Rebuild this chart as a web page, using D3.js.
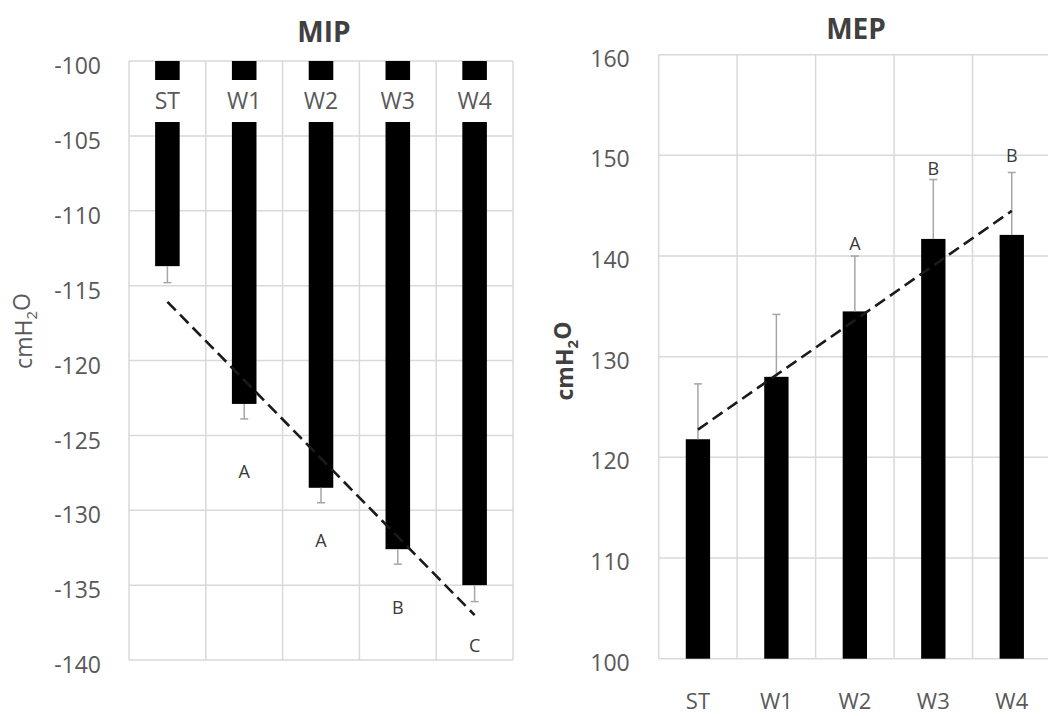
<!DOCTYPE html>
<html>
<head>
<meta charset="utf-8">
<script src="https://cdn.jsdelivr.net/npm/d3@7"></script>
<style>
  html, body { margin: 0; padding: 0; background: #fff; }
  svg { display: block; }
  text { font-family: "Open Sans", sans-serif; }
</style>
</head>
<body>
<svg id="chart" width="1048" height="716"></svg>
<script>
// ---- data ----
const categories = ["ST", "W1", "W2", "W3", "W4"];

const mipValues = [-113.7, -122.9, -128.5, -132.6, -135.0];
const mipErrors = [1.1, 1.0, 1.0, 1.0, 1.1];
const mipLetters = ["", "A", "A", "B", "C"];
const mipLetterAt = [null, -127.4, -132.0, -136.5, -139.05];
const mipTicks = [-100, -105, -110, -115, -120, -125, -130, -135, -140];

const mepValues = [121.8, 128.0, 134.5, 141.7, 142.1];
const mepErrors = [5.5, 6.2, 5.5, 5.9, 6.2];
const mepLetters = ["", "", "A", "B", "B"];
const mepLetterAt = [null, null, 141.2, 148.7, 150.0];
const mepTicks = [100, 110, 120, 130, 140, 150, 160];

// ---- helpers ----
function linreg(vals) {
  const xs = vals.map((_, i) => i);
  const mx = d3.mean(xs), my = d3.mean(vals);
  let sxy = 0, sxx = 0;
  vals.forEach((v, i) => { sxy += (i - mx) * (v - my); sxx += (i - mx) * (i - mx); });
  const slope = sxy / sxx;
  const icpt = my - slope * mx;
  return xs.map(i => icpt + slope * i);
}

const svg = d3.select("#chart");
const GRID = "#d9d9d9";
const TICKC = "#595959";
const ERRC = "#a6a6a6";

function panel(opt) {
  const g = svg.append("g");
  const x = d3.scaleBand().domain(categories).range([opt.x0, opt.x1]).paddingInner(0).paddingOuter(0);
  const y = d3.scaleLinear().domain(opt.domain).range([opt.y0, opt.y1]);
  const bw = x.bandwidth() * opt.barFrac;
  const cx = c => x(c) + x.bandwidth() / 2;
  const yTop = Math.min(y(opt.domain[0]), y(opt.domain[1]));
  const yBot = Math.max(y(opt.domain[0]), y(opt.domain[1]));

  // horizontal gridlines
  g.append("g").selectAll("line").data(opt.ticks).join("line")
    .attr("x1", opt.x0).attr("x2", opt.x1)
    .attr("y1", d => y(d)).attr("y2", d => y(d))
    .attr("stroke", GRID).attr("stroke-width", 1.5);
  // vertical gridlines (band edges)
  const edges = categories.map(c => x(c)).concat([opt.x1]);
  g.append("g").selectAll("line").data(edges).join("line")
    .attr("x1", d => d).attr("x2", d => d)
    .attr("y1", yTop).attr("y2", yBot)
    .attr("stroke", GRID).attr("stroke-width", 1.5);

  // y axis tick labels via d3 axis (hyphen minus like the reference)
  const yAxis = d3.axisLeft(y).tickValues(opt.ticks).tickSize(0).tickPadding(opt.tickPad)
    .tickFormat(d => String(d));
  const ya = g.append("g").attr("transform", `translate(${opt.x0},0)`).call(yAxis);
  ya.select(".domain").remove();
  ya.selectAll("text").attr("font-size", opt.tickFont).attr("fill", TICKC)
    .attr("font-family", "Open Sans, sans-serif").attr("dy", opt.tickDy);

  // bars
  const base = opt.base;
  g.append("g").selectAll("rect").data(opt.values).join("rect")
    .attr("x", (d, i) => cx(categories[i]) - bw / 2)
    .attr("width", bw)
    .attr("y", d => Math.min(y(base), y(d)))
    .attr("height", d => Math.abs(y(d) - y(base)))
    .attr("fill", "#000");

  // error bars
  const eg = g.append("g").attr("stroke", ERRC).attr("stroke-width", 1.5);
  opt.values.forEach((v, i) => {
    const e = v + opt.dir * opt.errors[i];
    const xc = cx(categories[i]);
    eg.append("line").attr("x1", xc).attr("x2", xc).attr("y1", y(v)).attr("y2", y(e));
    eg.append("line").attr("x1", xc - 4).attr("x2", xc + 4).attr("y1", y(e)).attr("y2", y(e));
  });

  // trend line (least squares of bar values), from first to last category
  const trend = linreg(opt.values);
  const pts = [[0, trend[0]], [categories.length - 1, trend[trend.length - 1]]];
  g.append("path")
    .datum(pts)
    .attr("d", d3.line().x(d => cx(categories[d[0]])).y(d => y(d[1])))
    .attr("fill", "none").attr("stroke", "#1a1a1a").attr("stroke-width", 2.6)
    .attr("stroke-dasharray", "12,6");

  // significance letters
  const lg = g.append("g");
  opt.letters.forEach((l, i) => {
    if (!l) return;
    lg.append("text")
      .attr("x", cx(categories[i])).attr("y", y(opt.letterAt[i]))
      .attr("dy", "0.35em").attr("text-anchor", "middle")
      .attr("font-size", opt.letterFont).attr("fill", "#3a3a3a").text(l);
  });

  return { g, x, y, cx, bw };
}

// Left: MIP
const L = panel({
  x0: 129, x1: 513, y0: 61, y1: 660, domain: [-100, -140], base: -100,
  ticks: mipTicks, values: mipValues, errors: mipErrors, dir: -1,
  letters: mipLetters, letterAt: mipLetterAt, barFrac: 0.32,
  tickPad: 28, tickFont: 23, tickDy: "0.55em", letterFont: 18
});

// white gap over bars for category labels
const gapTop = L.y(-100) + 19, gapBot = L.y(-100) + 61;
L.g.append("g").selectAll("rect").data(categories).join("rect")
  .attr("x", c => L.cx(c) - L.bw / 2 - 1).attr("width", L.bw + 2)
  .attr("y", gapTop).attr("height", gapBot - gapTop).attr("fill", "#fff");
L.g.append("g").selectAll("text").data(categories).join("text")
  .attr("x", c => L.cx(c)).attr("y", (gapTop + gapBot) / 2).attr("dy", "0.35em")
  .attr("text-anchor", "middle").attr("font-size", 23).attr("fill", TICKC).text(c => c);

// Right: MEP
const R = panel({
  x0: 658.7, x1: 1051, y0: 658.7, y1: 54.7, domain: [100, 160], base: 100,
  ticks: mepTicks, values: mepValues, errors: mepErrors, dir: 1,
  letters: mepLetters, letterAt: mepLetterAt, barFrac: 0.31,
  tickPad: 29, tickFont: 23, tickDy: "0.5em", letterFont: 18
});
R.g.append("g").selectAll("text").data(categories).join("text")
  .attr("x", c => R.cx(c)).attr("y", 701).attr("dy", "0.35em")
  .attr("text-anchor", "middle").attr("font-size", 22).attr("fill", TICKC).text(c => c);

// Titles
svg.append("text").attr("x", 324).attr("y", 32).attr("dy", "0.35em").attr("text-anchor", "middle")
  .attr("font-size", 28).attr("font-weight", "bold").attr("fill", "#404040").text("MIP");
svg.append("text").attr("x", 856).attr("y", 29).attr("dy", "0.35em").attr("text-anchor", "middle")
  .attr("font-size", 28).attr("font-weight", "bold").attr("fill", "#404040").text("MEP");

// Y axis titles
function yTitle(x, y, bold, color) {
  const t = svg.append("text").attr("transform", `translate(${x},${y}) rotate(-90)`)
    .attr("text-anchor", "middle").attr("dy", "0.35em")
    .attr("font-size", 23).attr("fill", color).attr("font-weight", bold ? "bold" : "normal");
  t.append("tspan").text("cmH");
  t.append("tspan").attr("font-size", 15).attr("dy", "0.3em").text("2");
  t.append("tspan").attr("dy", "-0.3em").text("O");
}
yTitle(24, 331, false, TICKC);
yTitle(565, 361, true, "#404040");
</script>
</body>
</html>
